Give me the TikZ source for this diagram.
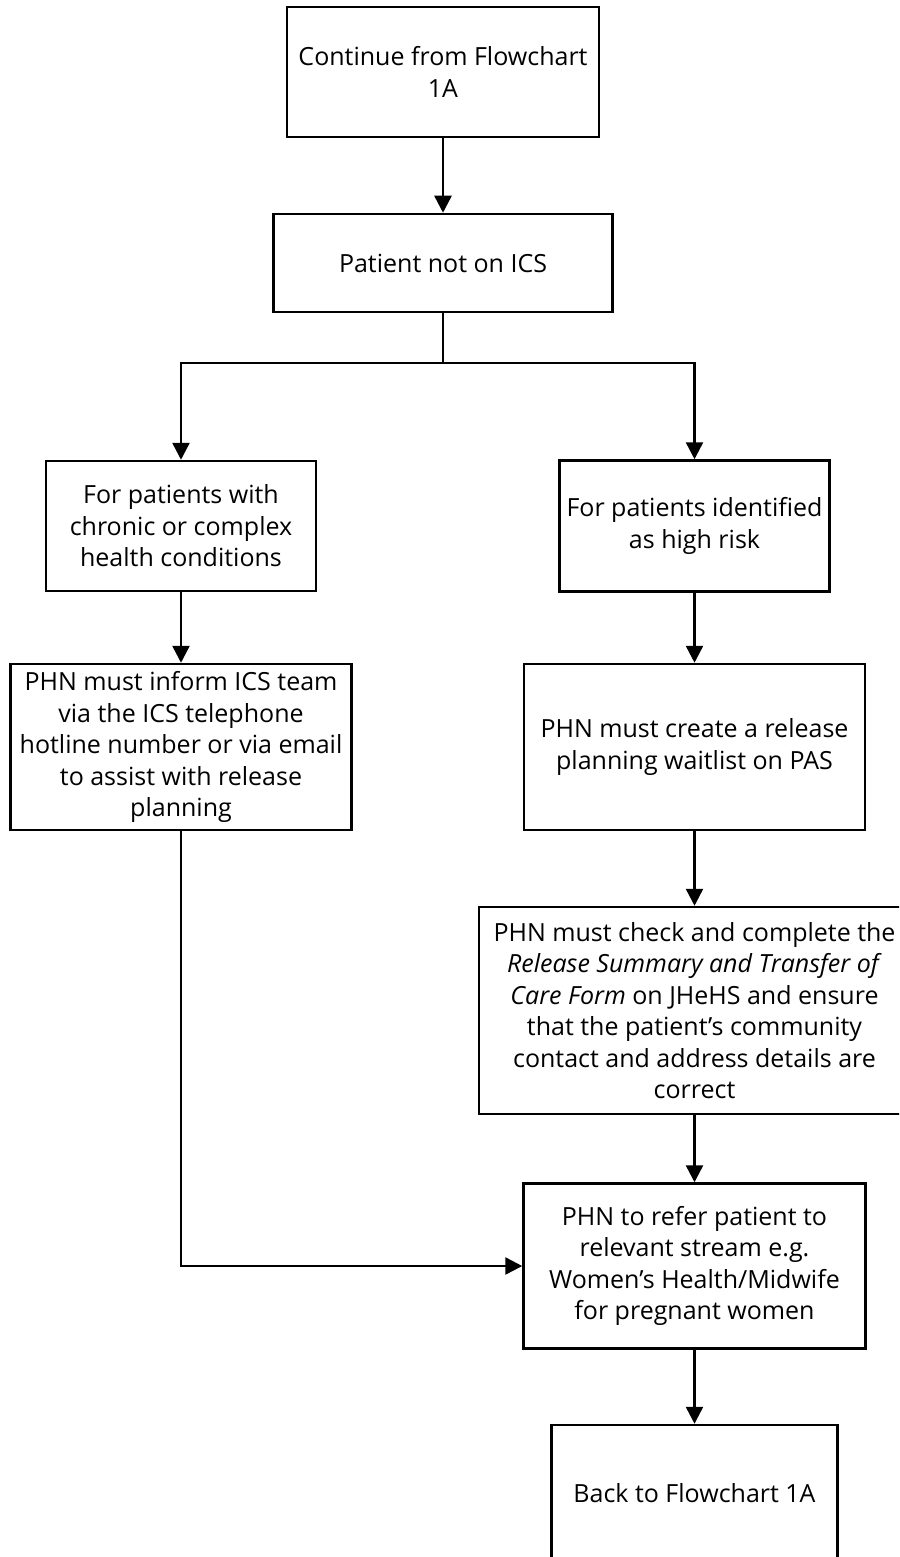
\documentclass[tikz,border=0pt]{standalone}
\usepackage{fontspec}
\setmainfont{Open Sans}
\usetikzlibrary{arrows.meta}
\begin{document}
\begin{tikzpicture}[x=1pt,y=-1pt,
  box/.style={draw, line width=2.5pt, rectangle, inner sep=0pt, align=center,
              font=\fontsize{25}{31.5}\selectfont},
  link/.style={line width=2.5pt},
  flow/.style={link, -{Triangle[length=17pt,width=17pt]}}]
\clip (0,0) rectangle (899,1557);

% process boxes
\node[box, minimum width=312pt, minimum height=130pt] (start) at (443,72)
  {Continue from Flowchart\\1A};
\node[box, minimum width=339pt, minimum height=98pt] (notics) at (443,263)
  {Patient not on ICS};
\node[box, minimum width=270pt, minimum height=130pt] (chronic) at (181,526)
  {For patients with\\chronic or complex\\health conditions};
\node[box, minimum width=270pt, minimum height=131pt] (highrisk) at (694.5,526)
  {For patients identified\\as high risk};
\node[box, minimum width=341pt, minimum height=166pt] (inform) at (181,747)
  {PHN must inform ICS team\\via the ICS telephone\\hotline number or via email\\to assist with release\\planning};
\node[box, minimum width=341pt, minimum height=166pt] (waitlist) at (694.5,747)
  {PHN must create a release\\planning waitlist on PAS};
\node[box, minimum width=431pt, minimum height=207pt] (check) at (694.5,1010.5)
  {PHN must check and complete the\\\textit{Release Summary and Transfer of}\\\textit{Care Form} on JHeHS and ensure\\that the patient’s community\\contact and address details are\\correct};
\node[box, minimum width=342pt, minimum height=165pt] (refer) at (694.5,1266)
  {PHN to refer patient to\\relevant stream e.g.\\Women’s Health/Midwife\\for pregnant women};
\node[box, minimum width=286pt, minimum height=136pt] (back) at (694.5,1493)
  {Back to Flowchart 1A};

% connectors
\coordinate (split) at (443,363);
\draw[flow] (start) -- (notics);
\draw[link] (notics.south) -- (split);
\draw[flow] (split) -| (chronic.north);
\draw[flow] (split) -| (highrisk.north);
\draw[flow] (chronic) -- (inform);
\draw[flow] (highrisk) -- (waitlist);
\draw[flow] (waitlist) -- (check);
\draw[flow] (check) -- (refer);
\draw[flow] (inform.south) |- (refer.west);
\draw[flow] (refer) -- (back);
\end{tikzpicture}
\end{document}
